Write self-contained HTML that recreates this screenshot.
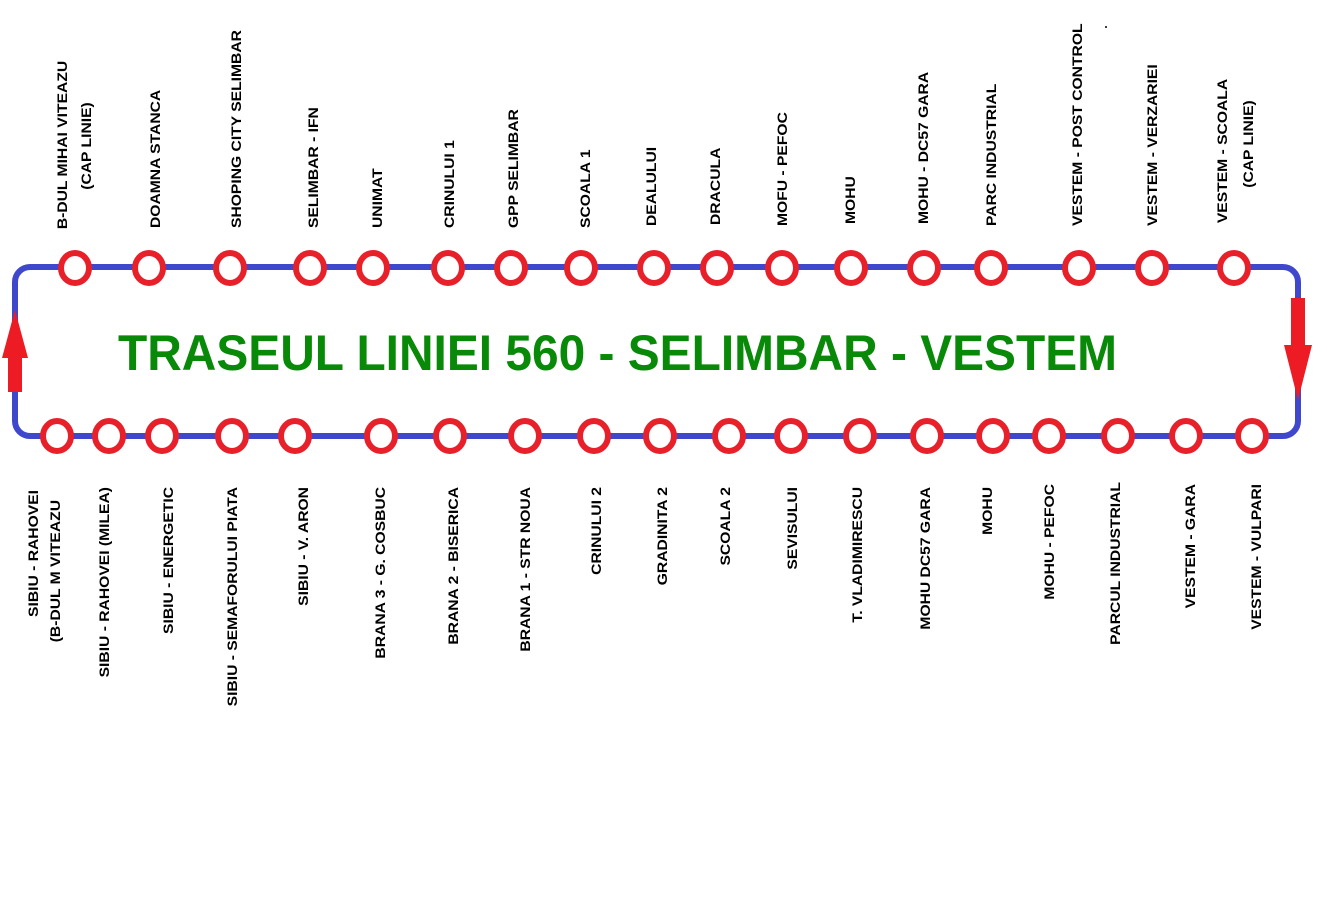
<!DOCTYPE html>
<html><head><meta charset="utf-8"><style>html,body{margin:0;padding:0;background:#fff}svg{display:block}</style></head>
<body>
<svg width="1327" height="912" viewBox="0 0 1327 912" xmlns="http://www.w3.org/2000/svg" font-family="Liberation Sans, Arial, sans-serif">
<rect width="1327" height="912" fill="#fff"/>
<rect x="15" y="267" width="1283" height="169" rx="15" ry="15" fill="none" stroke="#3f48cc" stroke-width="6"/>
<polygon points="15,310 28,358 22,358 22,392 8,392 8,358 2,358" fill="#ed1c24"/>
<polygon points="1291,298 1305,298 1305,345 1312,345 1298,400 1284,345 1291,345" fill="#ed1c24"/>
<g fill="#fff" stroke="#e8202a" stroke-width="6">
<ellipse cx="75" cy="268" rx="14" ry="15"/><ellipse cx="149" cy="268" rx="14" ry="15"/><ellipse cx="230" cy="268" rx="14" ry="15"/><ellipse cx="310" cy="268" rx="14" ry="15"/><ellipse cx="373" cy="268" rx="14" ry="15"/><ellipse cx="448" cy="268" rx="14" ry="15"/><ellipse cx="511" cy="268" rx="14" ry="15"/><ellipse cx="581" cy="268" rx="14" ry="15"/><ellipse cx="654" cy="268" rx="14" ry="15"/><ellipse cx="717" cy="268" rx="14" ry="15"/><ellipse cx="782" cy="268" rx="14" ry="15"/><ellipse cx="851" cy="268" rx="14" ry="15"/><ellipse cx="924" cy="268" rx="14" ry="15"/><ellipse cx="991" cy="268" rx="14" ry="15"/><ellipse cx="1079" cy="268" rx="14" ry="15"/><ellipse cx="1152" cy="268" rx="14" ry="15"/><ellipse cx="1234" cy="268" rx="14" ry="15"/>
<ellipse cx="57" cy="436" rx="14" ry="15"/><ellipse cx="109" cy="436" rx="14" ry="15"/><ellipse cx="162" cy="436" rx="14" ry="15"/><ellipse cx="232" cy="436" rx="14" ry="15"/><ellipse cx="295" cy="436" rx="14" ry="15"/><ellipse cx="381" cy="436" rx="14" ry="15"/><ellipse cx="450" cy="436" rx="14" ry="15"/><ellipse cx="525" cy="436" rx="14" ry="15"/><ellipse cx="594" cy="436" rx="14" ry="15"/><ellipse cx="660" cy="436" rx="14" ry="15"/><ellipse cx="729" cy="436" rx="14" ry="15"/><ellipse cx="791" cy="436" rx="14" ry="15"/><ellipse cx="860" cy="436" rx="14" ry="15"/><ellipse cx="927" cy="436" rx="14" ry="15"/><ellipse cx="993" cy="436" rx="14" ry="15"/><ellipse cx="1049" cy="436" rx="14" ry="15"/><ellipse cx="1118" cy="436" rx="14" ry="15"/><ellipse cx="1186" cy="436" rx="14" ry="15"/><ellipse cx="1252" cy="436" rx="14" ry="15"/>
</g>
<text x="118" y="370" font-size="50" font-weight="bold" fill="#088a08" textLength="999" lengthAdjust="spacingAndGlyphs">TRASEUL LINIEI 560 - SELIMBAR - VESTEM</text>
<circle cx="1106" cy="27" r="1" fill="#000"/>
<g font-size="13.5" font-weight="bold" fill="#000">
<text transform="translate(67,145) rotate(-90) scale(1.16,1)" text-anchor="middle">B-DUL MIHAI VITEAZU</text>
<text transform="translate(91,146) rotate(-90) scale(1.16,1)" text-anchor="middle">(CAP LINIE)</text>
<text transform="translate(160,228) rotate(-90) scale(1.16,1)">DOAMNA STANCA</text>
<text transform="translate(241,228) rotate(-90) scale(1.16,1)">SHOPING CITY  SELIMBAR</text>
<text transform="translate(318,228) rotate(-90) scale(1.16,1)">SELIMBAR - IFN</text>
<text transform="translate(382,228) rotate(-90) scale(1.16,1)">UNIMAT</text>
<text transform="translate(454,228) rotate(-90) scale(1.16,1)">CRINULUI 1</text>
<text transform="translate(518,228) rotate(-90) scale(1.16,1)">GPP SELIMBAR</text>
<text transform="translate(590,228) rotate(-90) scale(1.16,1)">SCOALA 1</text>
<text transform="translate(656,226) rotate(-90) scale(1.16,1)">DEALULUI</text>
<text transform="translate(720,225) rotate(-90) scale(1.16,1)">DRACULA</text>
<text transform="translate(787,226) rotate(-90) scale(1.16,1)">MOFU - PEFOC</text>
<text transform="translate(855,224) rotate(-90) scale(1.16,1)">MOHU</text>
<text transform="translate(928,224) rotate(-90) scale(1.16,1)">MOHU - DC57 GARA</text>
<text transform="translate(996,226) rotate(-90) scale(1.16,1)">PARC INDUSTRIAL</text>
<text transform="translate(1082,226) rotate(-90) scale(1.16,1)">VESTEM - POST CONTROL</text>
<text transform="translate(1157,226) rotate(-90) scale(1.16,1)">VESTEM - VERZARIEI</text>
<text transform="translate(1227,151) rotate(-90) scale(1.16,1)" text-anchor="middle">VESTEM - SCOALA</text>
<text transform="translate(1253,144) rotate(-90) scale(1.16,1)" text-anchor="middle">(CAP LINIE)</text>
</g>
<g font-size="13.5" font-weight="bold" fill="#000" text-anchor="end">
<text transform="translate(38,490) rotate(-90) scale(1.16,1)">SIBIU - RAHOVEI</text>
<text transform="translate(60,500) rotate(-90) scale(1.16,1)">(B-DUL M VITEAZU</text>
<text transform="translate(109,487) rotate(-90) scale(1.16,1)">SIBIU - RAHOVEI (MILEA)</text>
<text transform="translate(173,487) rotate(-90) scale(1.16,1)">SIBIU - ENERGETIC</text>
<text transform="translate(237,487) rotate(-90) scale(1.16,1)">SIBIU - SEMAFORULUI PIATA</text>
<text transform="translate(308,487) rotate(-90) scale(1.16,1)">SIBIU - V. ARON</text>
<text transform="translate(385,487) rotate(-90) scale(1.16,1)">BRANA 3 - G. COSBUC</text>
<text transform="translate(458,487) rotate(-90) scale(1.16,1)">BRANA 2 - BISERICA</text>
<text transform="translate(530,487) rotate(-90) scale(1.16,1)">BRANA 1 - STR NOUA</text>
<text transform="translate(601,487) rotate(-90) scale(1.16,1)">CRINULUI 2</text>
<text transform="translate(667,487) rotate(-90) scale(1.16,1)">GRADINITA 2</text>
<text transform="translate(730,487) rotate(-90) scale(1.16,1)">SCOALA 2</text>
<text transform="translate(797,487) rotate(-90) scale(1.16,1)">SEVISULUI</text>
<text transform="translate(862,487) rotate(-90) scale(1.16,1)">T. VLADIMIRESCU</text>
<text transform="translate(930,487) rotate(-90) scale(1.16,1)">MOHU DC57 GARA</text>
<text transform="translate(992,487) rotate(-90) scale(1.16,1)">MOHU</text>
<text transform="translate(1054,484) rotate(-90) scale(1.16,1)">MOHU - PEFOC</text>
<text transform="translate(1120,482) rotate(-90) scale(1.16,1)">PARCUL INDUSTRIAL</text>
<text transform="translate(1195,484) rotate(-90) scale(1.16,1)">VESTEM - GARA</text>
<text transform="translate(1261,484) rotate(-90) scale(1.16,1)">VESTEM - VULPARI</text>
</g>
</svg>
</body></html>
